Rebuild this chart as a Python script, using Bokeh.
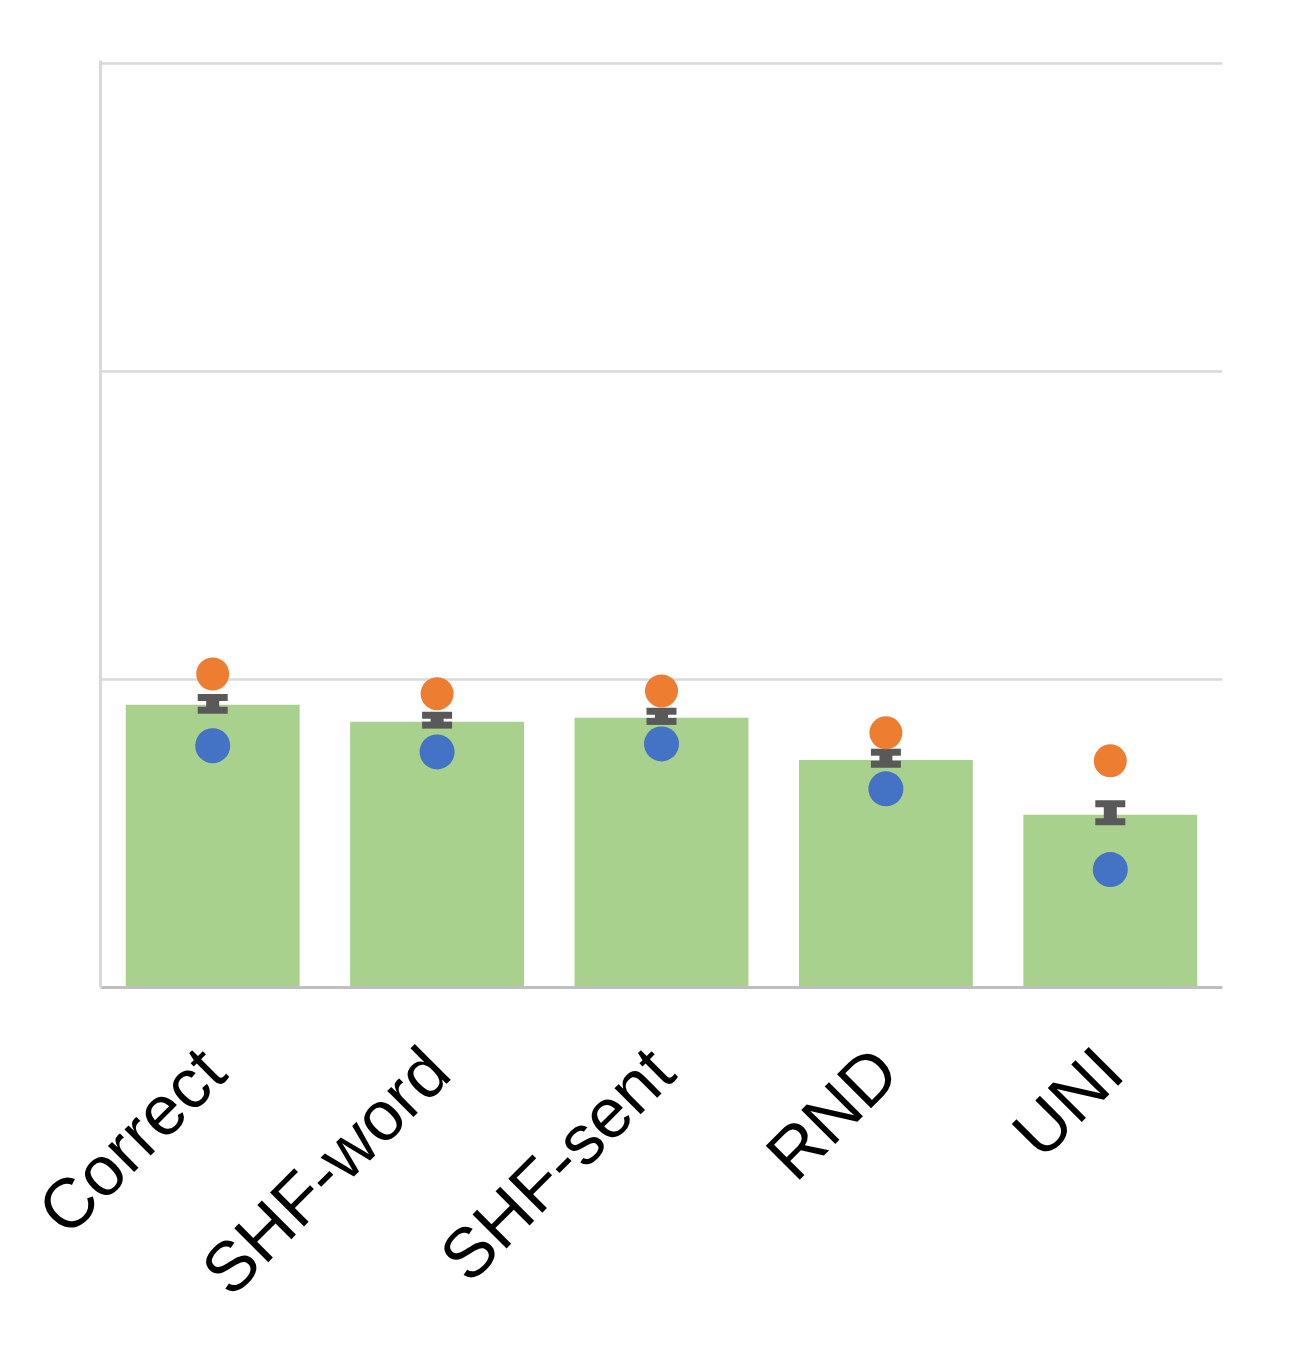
import math
from bokeh.plotting import figure
from bokeh.models import ColumnDataSource, FixedTicker, Range1d
from bokeh.embed import file_html
from bokeh.resources import INLINE

categories = ["Correct", "SHF-word", "SHF-sent", "RND", "UNI"]
bar_values = [0.918, 0.863, 0.876, 0.739, 0.561]
orange_values = [1.018, 0.954, 0.963, 0.827, 0.736]
blue_values = [0.785, 0.765, 0.791, 0.645, 0.383]
err_upper = [0.942, 0.884, 0.897, 0.764, 0.597]
err_lower = [0.900, 0.852, 0.864, 0.725, 0.538]
grid_ticks = [1, 2, 3]

src = ColumnDataSource(dict(cat=categories, bar=bar_values, orange=orange_values,
                            blue=blue_values, upper=err_upper, lower=err_lower))

p = figure(x_range=categories, y_range=Range1d(0, 3.01), width=1280, height=1340,
           output_backend="svg", toolbar_location=None,
           min_border_left=100, min_border_right=58, min_border_top=60, min_border_bottom=352)
p.outline_line_color = None
p.background_fill_color = "white"

p.vbar(x="cat", top="bar", width=0.775, source=src, fill_color="#a9d18e", line_color=None)

# error bars: thick stem plus caps
p.segment(x0="cat", y0="lower", x1="cat", y1="upper", source=src,
          line_color="#595959", line_width=13, line_cap="butt")
p.rect(x="cat", y="upper", width=30, height=7, width_units="screen", height_units="screen",
       source=src, fill_color="#595959", line_color=None)
p.rect(x="cat", y="lower", width=30, height=7, width_units="screen", height_units="screen",
       source=src, fill_color="#595959", line_color=None)

p.scatter(x="cat", y="orange", source=src, size=33, fill_color="#ed7d31", line_color=None)
p.scatter(x="cat", y="blue", source=src, size=35, fill_color="#4472c4", line_color=None)

p.yaxis.ticker = FixedTicker(ticks=[])
p.yaxis.major_tick_line_color = None
p.yaxis.minor_tick_line_color = None
p.yaxis.axis_line_color = "#d9d9d9"
p.yaxis.axis_line_width = 3

p.ygrid.ticker = FixedTicker(ticks=grid_ticks)
p.ygrid.grid_line_color = "#d9d9d9"
p.ygrid.grid_line_width = 2.5
p.xgrid.grid_line_color = None

p.xaxis.axis_line_color = "#bfbfbf"
p.xaxis.axis_line_width = 3
p.xaxis.major_tick_line_color = None
p.xaxis.minor_tick_line_color = None
p.xaxis.major_label_orientation = math.pi / 4
p.xaxis.major_label_text_font = "Liberation Sans"
p.xaxis.major_label_text_font_size = "70px"
p.xaxis.major_label_text_color = "black"
p.xaxis.major_label_standoff = 66

p.x_range.range_padding = 0.0

open("out.html", "w").write(file_html(p, INLINE))
